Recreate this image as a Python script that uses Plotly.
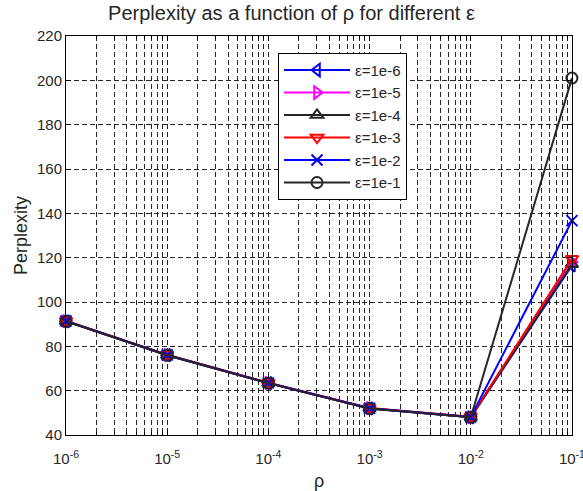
import plotly.graph_objects as go

rho = [1e-6, 1e-5, 1e-4, 1e-3, 1e-2, 1e-1]
eps_labels = ["ε=1e-6", "ε=1e-5", "ε=1e-4", "ε=1e-3", "ε=1e-2", "ε=1e-1"]
ppl_1e6 = [91.3, 76.0, 63.4, 52.0, 48.0, 116.5]
ppl_1e5 = [91.4, 76.1, 63.5, 52.1, 48.1, 118.0]
ppl_1e4 = [91.3, 76.0, 63.4, 52.0, 48.0, 117.0]
ppl_1e3 = [91.5, 76.2, 63.6, 52.2, 48.2, 119.5]
ppl_1e2 = [91.4, 76.1, 63.5, 52.1, 48.1, 136.7]
ppl_1e1 = [91.3, 76.0, 63.4, 51.9, 48.0, 201.0]
series = [ppl_1e6, ppl_1e5, ppl_1e4, ppl_1e3, ppl_1e2, ppl_1e1]

colors = ["#0000ff", "#ff00ff", "#262626", "#ff0000", "#0000ff", "#262626"]
symbols = ["triangle-left-open", "triangle-right-open", "triangle-up-open",
           "triangle-down-open", "x-thin-open", "circle-open"]
x_tickvals = [1e-6, 1e-5, 1e-4, 1e-3, 1e-2, 1e-1]
x_ticktext = ["10<sup>-6</sup>", "10<sup>-5</sup>", "10<sup>-4</sup>",
              "10<sup>-3</sup>", "10<sup>-2</sup>", "10<sup>-1</sup>"]
decades = [1e-6, 1e-5, 1e-4, 1e-3, 1e-2]
minor_digits = [2, 3, 4, 5, 6, 7, 8, 9]
x_minor_vals = [d * m for d in decades for m in minor_digits]

fig = go.Figure()
for lab, vals, c, s in zip(eps_labels, series, colors, symbols):
    fig.add_trace(go.Scatter(
        x=rho, y=vals, mode="lines+markers", name=lab,
        line=dict(color=c, width=2),
        marker=dict(symbol=s, size=11, color=c, line=dict(color=c, width=2)),
        cliponaxis=False,
    ))

font = "Liberation Sans, Arial, sans-serif"
grid_dash = "5px,3px"
fig.update_layout(
    width=583, height=491,
    margin=dict(l=66, r=11, t=36, b=56),
    plot_bgcolor="white", paper_bgcolor="white",
    font=dict(family=font, size=13, color="#262626"),
    title=dict(text="Perplexity as a function of ρ for different ε",
               x=0.5, xanchor="center", y=0.988, yanchor="top",
               font=dict(size=20, color="#262626")),
    xaxis=dict(type="log", range=[-6, -0.9995], tickmode="array",
               tickvals=x_tickvals, ticktext=x_ticktext,
               ticklabeloverflow="allow", ticklabelstandoff=10,
               showgrid=True, gridcolor="#262626", griddash=grid_dash, gridwidth=1,
               showline=True, linecolor="black", linewidth=1, mirror="ticks",
               ticks="inside", ticklen=5, tickcolor="black",
               minor=dict(tickmode="array", tickvals=x_minor_vals,
                          showgrid=True, gridcolor="#262626", griddash=grid_dash,
                          gridwidth=1, ticks="inside", ticklen=3, tickcolor="black"),
               title=dict(text="ρ", font=dict(size=18), standoff=8),
               tickfont=dict(size=15), zeroline=False, automargin=False),
    yaxis=dict(range=[40, 220], dtick=20, tick0=40,
               showgrid=True, gridcolor="#262626", griddash=grid_dash, gridwidth=1,
               showline=True, linecolor="black", linewidth=1, mirror="ticks",
               ticks="inside", ticklen=5, tickcolor="black",
               title=dict(text="Perplexity", font=dict(size=18), standoff=4),
               tickfont=dict(size=15), zeroline=False, automargin=False),
    legend=dict(x=0.419, y=0.958, xanchor="left", yanchor="top",
                bgcolor="white", bordercolor="black", borderwidth=1,
                font=dict(size=15, color="#262626"), itemwidth=66,
                tracegroupgap=0),
    showlegend=True,
)
fig.write_html("out.html", config={"displayModeBar": False})

with open("out.html", "r", encoding="utf-8") as f:
    html = f.read()
html = html.replace("<head>", "<head><style>html,body{margin:0;padding:0;overflow:hidden;}</style>", 1)
with open("out.html", "w", encoding="utf-8") as f:
    f.write(html)
